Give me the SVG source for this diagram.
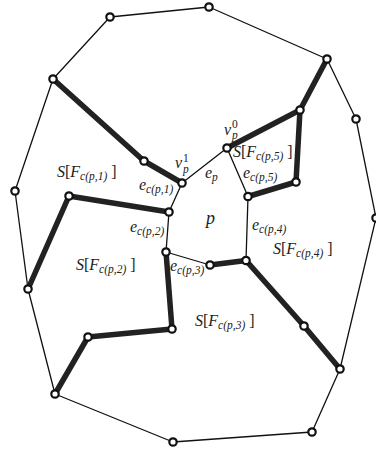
<svg xmlns="http://www.w3.org/2000/svg" width="376" height="450" viewBox="0 0 376 450">
<style>
.thin{fill:none;stroke:#111;stroke-width:1.3;stroke-linejoin:round}
.thick{fill:none;stroke:#222;stroke-width:5.5;stroke-linecap:round;stroke-linejoin:round}
.v{fill:#fff;stroke:#111;stroke-width:2.2}
text{font-family:"Liberation Serif","DejaVu Serif",serif;fill:#222}
.m{font-size:16px}
.i{font-style:italic}
.s{font-size:11.5px;font-style:italic}
.n{font-size:11.5px;font-style:normal}
.p{font-size:18px;font-style:italic}
</style>
<rect width="376" height="450" fill="#fff"/>
<g id="connectors">
<polygon class="thin" points="53,79 110,17 209,7 327,59 356,119 376,218 340,369 312,432 173,442 55,394 28,289 15,191"/>
<polyline class="thin" points="182,183 227,148 248,196.5 246,260.5"/>
<polyline class="thin" points="182,183 169,212 166,252 210,265"/>
<polyline class="thick" points="53,79 144,161 182,183"/>
<polyline class="thick" points="169,212 69,196 28,289"/>
<polyline class="thick" points="166,252 172,329 88,337 55,394"/>
<polyline class="thick" points="210,265 246,260.5 304,326 340,369"/>
<polyline class="thick" points="227,148 300,110 327,59"/>
<polyline class="thick" points="300,110 296,182 248,196.5"/>
</g>
<g id="nodes">
<circle class="v" cx="53" cy="79" r="3.7"/>
<circle class="v" cx="110" cy="17" r="3.7"/>
<circle class="v" cx="209" cy="7" r="3.7"/>
<circle class="v" cx="327" cy="59" r="3.7"/>
<circle class="v" cx="356" cy="119" r="3.7"/>
<circle class="v" cx="376" cy="218" r="3.7"/>
<circle class="v" cx="340" cy="369" r="3.7"/>
<circle class="v" cx="312" cy="432" r="3.7"/>
<circle class="v" cx="173" cy="442" r="3.7"/>
<circle class="v" cx="55" cy="394" r="3.7"/>
<circle class="v" cx="28" cy="289" r="3.7"/>
<circle class="v" cx="15" cy="191" r="3.7"/>
<circle class="v" cx="144" cy="161" r="3.7"/>
<circle class="v" cx="182" cy="183" r="3.7"/>
<circle class="v" cx="227" cy="148" r="3.7"/>
<circle class="v" cx="300" cy="110" r="3.7"/>
<circle class="v" cx="296" cy="182" r="3.7"/>
<circle class="v" cx="248" cy="196.5" r="3.7"/>
<circle class="v" cx="246" cy="260.5" r="3.7"/>
<circle class="v" cx="210" cy="265" r="3.7"/>
<circle class="v" cx="166" cy="252" r="3.7"/>
<circle class="v" cx="169" cy="212" r="3.7"/>
<circle class="v" cx="69" cy="196" r="3.7"/>
<circle class="v" cx="172" cy="329" r="3.7"/>
<circle class="v" cx="88" cy="337" r="3.7"/>
<circle class="v" cx="304" cy="326" r="3.7"/>
</g>
<g id="labels">
<text class="m" x="57" y="177"><tspan class="i">S</tspan>[<tspan class="i">F</tspan><tspan class="s" dy="3">c(p,1)</tspan><tspan dy="-3"> ]</tspan></text>
<text class="m" x="76" y="270"><tspan class="i">S</tspan>[<tspan class="i">F</tspan><tspan class="s" dy="3">c(p,2)</tspan><tspan dy="-3"> ]</tspan></text>
<text class="m" x="195" y="326"><tspan class="i">S</tspan>[<tspan class="i">F</tspan><tspan class="s" dy="3">c(p,3)</tspan><tspan dy="-3"> ]</tspan></text>
<text class="m" x="273" y="254"><tspan class="i">S</tspan>[<tspan class="i">F</tspan><tspan class="s" dy="3">c(p,4)</tspan><tspan dy="-3"> ]</tspan></text>
<text class="m" x="233" y="157"><tspan class="i">S</tspan>[<tspan class="i">F</tspan><tspan class="s" dy="3">c(p,5)</tspan><tspan dy="-3"> ]</tspan></text>
<text class="m" x="139" y="190"><tspan class="i">e</tspan><tspan class="s" dy="3">c(p,1)</tspan></text>
<text class="m" x="130" y="232"><tspan class="i">e</tspan><tspan class="s" dy="3">c(p,2)</tspan></text>
<text class="m" x="170" y="271"><tspan class="i">e</tspan><tspan class="s" dy="3">c(p,3)</tspan></text>
<text class="m" x="252" y="230"><tspan class="i">e</tspan><tspan class="s" dy="3">c(p,4)</tspan></text>
<text class="m" x="243" y="178"><tspan class="i">e</tspan><tspan class="s" dy="3">c(p,5)</tspan></text>
<text class="m" x="205" y="178"><tspan class="i">e</tspan><tspan class="s" dy="3">p</tspan></text>
<text class="p" x="206" y="224">p</text>
<text class="m i" x="175" y="168">v</text>
<text class="n" x="183" y="162">1</text>
<text class="s" x="183" y="173">p</text>
<text class="m i" x="224" y="135">v</text>
<text class="n" x="232" y="128">0</text>
<text class="s" x="232" y="139">p</text>
</g>
</svg>
